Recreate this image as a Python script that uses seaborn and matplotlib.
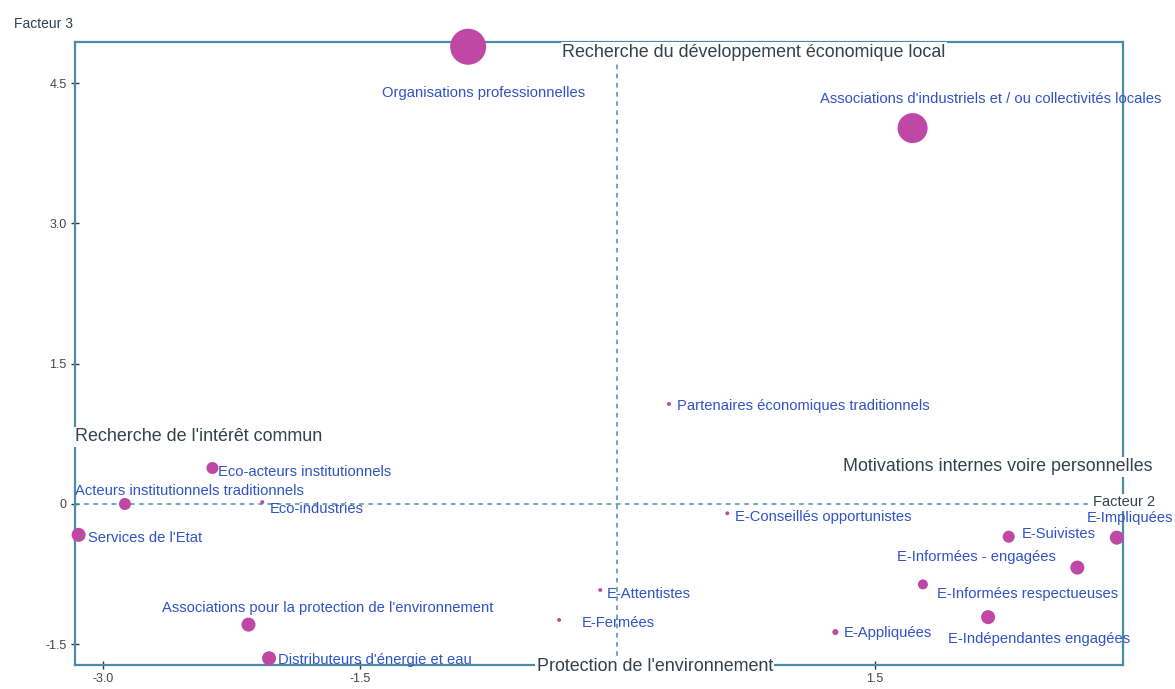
import matplotlib
matplotlib.use("Agg")
import matplotlib.pyplot as plt
import seaborn as sns
import pandas as pd

# ---- data ----
names = [
    "Organisations professionnelles",
    "Associations d'industriels et / ou collectivités locales",
    "Partenaires économiques traditionnels",
    "Eco-acteurs institutionnels",
    "Acteurs institutionnels traditionnels",
    "Eco-industries",
    "Services de l'Etat",
    "Associations pour la protection de l'environnement",
    "Distributeurs d'énergie et eau",
    "E-Attentistes",
    "E-Fermées",
    "E-Conseillés opportunistes",
    "E-Suivistes",
    "E-Impliquées",
    "E-Informées - engagées",
    "E-Informées respectueuses",
    "E-Indépendantes engagées",
    "E-Appliquées",
]
factor2 = [-0.87, 1.72, 0.30, -2.36, -2.87, -2.07, -3.14, -2.15, -2.03,
           -0.10, -0.34, 0.64, 2.28, 2.91, 2.68, 1.78, 2.16, 1.27]
factor3 = [4.89, 4.02, 1.07, 0.385, 0.0, 0.02, -0.33, -1.29, -1.65,
           -0.92, -1.24, -0.10, -0.35, -0.36, -0.68, -0.86, -1.21, -1.37]
weights = [672, 467, 8, 75, 75, 8, 102, 102, 102,
           8, 8, 8, 75, 102, 102, 52, 102, 19]

# label anchor (left, centre) positions
label_x = [-1.372, 1.180, 0.347, -2.329, -3.161, -2.024, -3.086, -2.654, -1.978,
           -0.061, -0.207, 0.685, 2.357, 2.736, 1.629, 1.862, 1.926, 1.319]
label_y = [4.396, 4.33, 1.048, 0.342, 0.139, -0.053, -0.364, -1.112, -1.668,
           -0.963, -1.273, -0.139, -0.321, -0.150, -0.567, -0.963, -1.444, -1.380]

quadrant_texts = [
    "Recherche du développement économique local",
    "Recherche de l'intérêt commun",
    "Motivations internes voire personnelles",
    "Protection de l'environnement",
]
quad_x = [-0.323, -3.161, 1.314, -0.47]
quad_y = [4.83, 0.717, 0.40, -1.74]

xticks = [-3.0, -1.5, 1.5]
xtick_labels = ["-3.0", "-1.5", "1.5"]
yticks = [4.5, 3.0, 1.5, 0.0, -1.5]
ytick_labels = ["4.5", "3.0", "1.5", "0", "-1.5"]

df = pd.DataFrame({"name": names, "f2": factor2, "f3": factor3, "w": weights})

sns.set_theme(style="white")
plt.rcParams["font.family"] = ["Liberation Sans", "DejaVu Sans"]

fig = plt.figure(figsize=(11.75, 6.89), dpi=100)
ax = fig.add_axes([75 / 1175, 1 - 665 / 689, (1123 - 75) / 1175, (665 - 41.5) / 689])

axis_col = "#4A8CA8"
point_col = "#BE48A4"
label_col = "#2F52C8"
text_col = "#33414C"

ax.axhline(0, color=axis_col, lw=1.1, ls=(0, (3, 3)), zorder=1)
ax.axvline(0, color=axis_col, lw=1.1, ls=(0, (3, 3)), zorder=1)

sns.scatterplot(data=df, x="f2", y="f3", size="w", sizes=(8, 672), size_norm=(8, 672),
                color=point_col, edgecolor="none", legend=False, ax=ax, zorder=3,
                clip_on=False)

for n, lx, ly in zip(names, label_x, label_y):
    ax.text(lx, ly, n, color=label_col, fontsize=10.6, ha="left", va="center",
            zorder=4, clip_on=False)

for t, qx, qy in zip(quadrant_texts, quad_x, quad_y):
    ax.text(qx, qy, t, color=text_col, fontsize=12.9, ha="left", va="center",
            zorder=5, clip_on=False,
            bbox=dict(facecolor="white", edgecolor="none", pad=1))

ax.text(2.77, 0.02, "Facteur 2", color=text_col, fontsize=10.5, ha="left", va="center",
        zorder=5, clip_on=False, bbox=dict(facecolor="white", edgecolor="none", pad=1))
fig.text(14 / 1175, 1 - 24 / 689, "Facteur 3", color=text_col, fontsize=10,
         ha="left", va="center")

ax.set_xlim(-3.161, 2.946)
ax.set_ylim(-1.722, 4.946)
ax.set_xticks(xticks)
ax.set_xticklabels(xtick_labels)
ax.set_yticks(yticks)
ax.set_yticklabels(ytick_labels)
ax.tick_params(axis="both", direction="inout", length=6, width=1, color="#333333",
               labelsize=9, labelcolor="#444444", left=True, bottom=True, pad=3)
ax.set_xlabel("")
ax.set_ylabel("")
for sp in ax.spines.values():
    sp.set_color(axis_col)
    sp.set_linewidth(1.6)

fig.savefig("out.png", dpi=100, facecolor="white")
